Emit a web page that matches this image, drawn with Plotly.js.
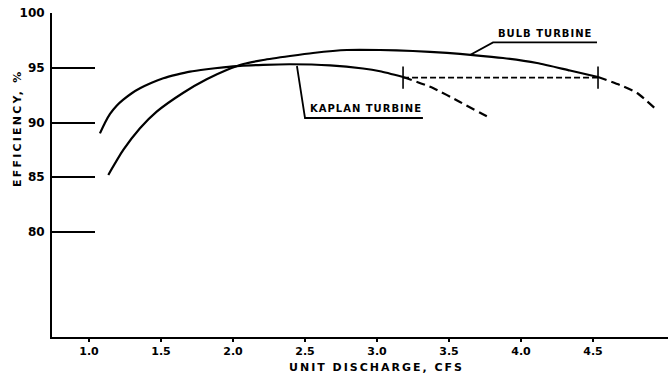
<!DOCTYPE html>
<html><head><meta charset="utf-8">
<script src="https://cdn.plot.ly/plotly-3.0.1.min.js"></script>
<style>
html,body{margin:0;padding:0;background:#fff;}
#chart{width:672px;height:377px;}
text[data-unformatted^="UNIT"]{letter-spacing:2px;}
text[data-unformatted^="EFFICIENCY"]{letter-spacing:2.2px;}
text[data-unformatted$="TURBINE"]{letter-spacing:1px;}
</style>
</head><body><div id="chart"></div>
<script>
// Kaplan turbine efficiency (solid = tested range, dashed = extrapolated)
const kaplanSolidX = [1.076, 1.111, 1.146, 1.192, 1.238, 1.297, 1.354, 1.435, 1.516, 1.609, 1.701, 1.817, 1.933, 2.049, 2.210, 2.396, 2.674, 2.903, 3.021, 3.181];
const kaplanSolidY = [89.01, 89.98, 90.78, 91.53, 92.08, 92.67, 93.12, 93.63, 94.04, 94.37, 94.64, 94.86, 95.04, 95.18, 95.27, 95.32, 95.22, 94.93, 94.68, 94.16];
const kaplanDashX = [3.181, 3.389, 3.576, 3.785];
const kaplanDashY = [94.16, 93.15, 91.87, 90.41];
// Bulb turbine efficiency
const bulbSolidX = [1.134, 1.238, 1.354, 1.470, 1.655, 1.817, 1.956, 2.072, 2.210, 2.396, 2.556, 2.792, 3.021, 3.250, 3.486, 3.667, 3.875, 4.111, 4.340, 4.535];
const bulbSolidY = [85.21, 87.49, 89.47, 90.99, 92.72, 93.94, 94.79, 95.34, 95.71, 96.07, 96.35, 96.62, 96.62, 96.53, 96.35, 96.16, 95.89, 95.43, 94.75, 94.16];
const bulbDashX = [4.535, 4.688, 4.806, 4.944];
const bulbDashY = [94.16, 93.42, 92.69, 91.14];
// equal-efficiency link between the two operating limits
const linkX = [3.181, 4.535];
const linkY = [94.1, 94.1];
// limit marks
const limitX = [3.181, 4.535];
const limitY = [94.1, 94.1];
// axis ticks
const xTicks = [1.0, 1.5, 2.0, 2.5, 3.0, 3.5, 4.0, 4.5];
const xTickText = ['1.0', '1.5', '2.0', '2.5', '3.0', '3.5', '4.0', '4.5'];
const yTicks = [80, 85, 90, 95, 100];
const yTickText = ['80', '85', '90', '95', '100'];

const FONT = 'DejaVu Sans, sans-serif';
const solid = {color: '#000', width: 2.2, shape: 'spline', smoothing: 0.6};
const dashed = {color: '#000', width: 2.2, shape: 'spline', smoothing: 0.6, dash: '9px,5px'};

const traces = [
  {x: kaplanSolidX, y: kaplanSolidY, mode: 'lines', line: solid, name: 'Kaplan turbine'},
  {x: kaplanDashX, y: kaplanDashY, mode: 'lines', line: dashed, name: 'Kaplan (extrapolated)'},
  {x: bulbSolidX, y: bulbSolidY, mode: 'lines', line: solid, name: 'Bulb turbine'},
  {x: bulbDashX, y: bulbDashY, mode: 'lines', line: dashed, name: 'Bulb (extrapolated)'},
  {x: linkX, y: linkY, mode: 'lines', line: {color: '#000', width: 1.8, dash: '6px,3px'}, name: 'link'},
  {x: limitX, y: limitY, mode: 'markers', marker: {symbol: 'line-ns', size: 16, color: '#000', line: {width: 1.6, color: '#000'}}, name: 'limits'}
];

const layout = {
  width: 672, height: 377,
  margin: {l: 52, r: 4, t: 13, b: 40},
  paper_bgcolor: '#fff', plot_bgcolor: '#fff',
  showlegend: false,
  xaxis: {
    range: [0.743, 5.021], showgrid: false, zeroline: false,
    showline: true, linecolor: '#000', linewidth: 2,
    ticks: 'outside', ticklen: 3, tickwidth: 1.5, tickcolor: '#000',
    tickvals: xTicks, ticktext: xTickText,
    tickfont: {family: FONT, size: 11, color: '#000', weight: 'bold'}
  },
  yaxis: {
    range: [70.41, 100], showgrid: false, zeroline: false,
    showline: true, linecolor: '#000', linewidth: 2,
    ticks: 'inside', ticklen: 43, tickwidth: 2, tickcolor: '#000',
    tickvals: yTicks, ticktext: yTickText, ticklabelstandoff: 3,
    tickfont: {family: FONT, size: 12, color: '#000', weight: 'bold'}
  },
  shapes: [
    {type: 'path', xref: 'x', yref: 'y', path: 'M 3.646 96.16 L 3.806 97.32 L 4.528 97.32', line: {color: '#000', width: 1.8}},
    {type: 'path', xref: 'x', yref: 'y', path: 'M 2.444 95.16 L 2.5 90.41 L 3.319 90.41', line: {color: '#000', width: 1.8}}
  ],
  annotations: [
    {text: 'BULB TURBINE', xref: 'x', yref: 'y', x: 4.167, y: 97.45, xanchor: 'center', yanchor: 'bottom', showarrow: false,
     font: {family: FONT, size: 10, color: '#000', weight: 'bold'}},
    {text: 'KAPLAN TURBINE', xref: 'x', yref: 'y', x: 2.927, y: 90.55, xanchor: 'center', yanchor: 'bottom', showarrow: false,
     font: {family: FONT, size: 10, color: '#000', weight: 'bold'}},
    {text: 'UNIT DISCHARGE, CFS', xref: 'x', yref: 'paper', x: 3.0, y: -0.0926, xanchor: 'center', yanchor: 'middle', showarrow: false,
     font: {family: FONT, size: 11, color: '#000', weight: 'bold'}},
    {text: 'EFFICIENCY, %', xref: 'paper', yref: 'y', x: -0.0552, y: 89.5, xanchor: 'center', yanchor: 'middle', textangle: -90, showarrow: false,
     font: {family: FONT, size: 11, color: '#000', weight: 'bold'}}
  ]
};

Plotly.newPlot('chart', traces, layout, {staticPlot: true, displayModeBar: false});
</script>
</body></html>
